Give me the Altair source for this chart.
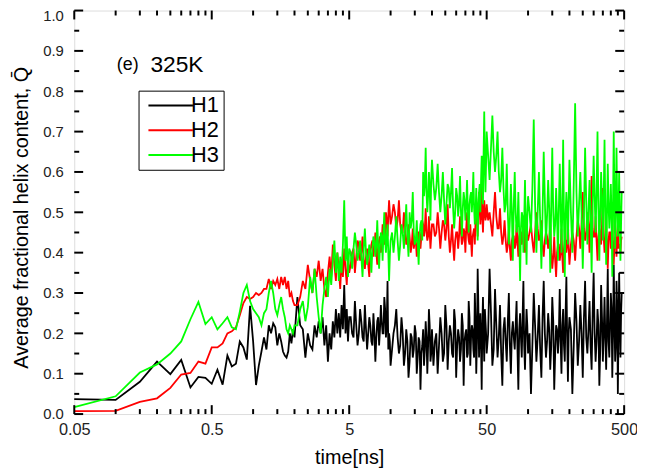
import altair as alt
import pandas as pd

# ---------------- data ----------------
time_a = [0.05, 0.1, 0.15, 0.2, 0.25, 0.3, 0.35, 0.4, 0.45, 0.5,
          0.55, 0.6, 0.65, 0.7, 0.75, 0.8, 0.85, 0.9, 0.95, 1.0,
          1.05, 1.1, 1.15, 1.2, 1.25, 1.3, 1.35, 1.4, 1.45, 1.5,
          1.55, 1.6, 1.65, 1.7, 1.75, 1.8, 1.85, 1.9, 1.95, 2.0]
time_b = [2.1, 2.2, 2.3, 2.4, 2.5, 2.6, 2.7, 2.8, 2.9, 3.0,
          3.1, 3.2, 3.3, 3.4, 3.5, 3.6, 3.7, 3.8, 3.9, 4.0,
          4.1, 4.2, 4.3, 4.4, 4.5, 4.6, 4.7, 4.8, 4.9, 5.0]
time_c = [5.25, 5.5, 5.75, 6.0, 6.25, 6.5, 6.75, 7.0, 7.25, 7.5,
          7.75, 8.0, 8.25, 8.5, 8.75, 9.0, 9.25, 9.5, 9.75, 10.0]
time_d = [10.5, 11, 11.5, 12, 12.5, 13, 13.5, 14, 14.5, 15,
          15.5, 16, 16.5, 17, 17.5, 18, 18.5, 19, 19.5, 20]
time_e = [21, 22, 23, 24, 25, 26, 27, 28, 29, 30,
          31, 32, 33, 34, 35, 36, 37, 38, 39, 40,
          41, 42, 43, 44, 45, 46, 47, 48, 49, 50]
time_f = [52.5, 55, 57.5, 60, 62.5, 65, 67.5, 70, 72.5, 75,
          77.5, 80, 82.5, 85, 87.5, 90, 92.5, 95, 97.5, 100]
time_g = [105, 110, 115, 120, 125, 130, 135, 140, 145, 150,
          155, 160, 165, 170, 175, 180, 185, 190, 195, 200]
time_h = [210, 220, 230, 240, 250, 260, 270, 280, 290, 300,
          310, 320, 330, 340, 350, 360, 370, 380, 390, 400,
          410, 420, 430, 440, 450, 460, 470, 480]
# extra readings in the dense part, between the times above
time_c2 = [5.125, 5.375, 5.625, 5.875, 6.125, 6.375, 6.625, 6.875, 7.125, 7.375,
           7.625, 7.875, 8.125, 8.375, 8.625, 8.875, 9.125, 9.375, 9.625, 9.875]
time_d2 = [10.25, 10.75, 11.25, 11.75, 12.25, 12.75, 13.25, 13.75, 14.25, 14.75,
           15.25, 15.75, 16.25, 16.75, 17.25, 17.75, 18.25, 18.75, 19.25, 19.75]
time_e2 = [20.5, 21.5, 22.5, 23.5, 24.5, 25.5, 26.5, 27.5, 28.5, 29.5,
           30.5, 31.5, 32.5, 33.5, 34.5, 35.5, 36.5, 37.5, 38.5, 39.5,
           40.5, 41.5, 42.5, 43.5, 44.5, 45.5, 46.5, 47.5, 48.5, 49.5]
time_f2 = [51.25, 53.75, 56.25, 58.75, 61.25, 63.75, 66.25, 68.75, 71.25, 73.75,
           76.25, 78.75, 81.25, 83.75, 86.25, 88.75, 91.25, 93.75, 96.25, 98.75]
time_g2 = [102.5, 107.5, 112.5, 117.5, 122.5, 127.5, 132.5, 137.5, 142.5, 147.5,
           152.5, 157.5, 162.5, 167.5, 172.5, 177.5, 182.5, 187.5, 192.5, 197.5]
time_h2 = [205, 215, 225, 235, 245, 255, 265, 275, 285, 295,
           305, 315, 325, 335, 345, 355, 365, 375, 385, 395,
           405, 415, 425, 435, 445, 455, 465, 475]

h1_a = [0.037, 0.035, 0.08, 0.13, 0.099, 0.134, 0.066, 0.092, 0.09, 0.075,
        0.11, 0.073, 0.145, 0.118, 0.125, 0.18, 0.165, 0.135, 0.268, 0.18,
        0.072, 0.12, 0.155, 0.19, 0.16, 0.22, 0.2, 0.225, 0.215, 0.17,
        0.2, 0.18, 0.155, 0.145, 0.14, 0.155, 0.2, 0.175, 0.21, 0.19]
h1_b = [0.29, 0.22, 0.21, 0.14, 0.2, 0.17, 0.16, 0.22, 0.19, 0.23,
        0.2, 0.24, 0.17, 0.22, 0.13, 0.2, 0.16, 0.23, 0.19, 0.26,
        0.2, 0.25, 0.19, 0.27, 0.21, 0.32, 0.2, 0.26, 0.18, 0.24]
h1_c = [0.2, 0.28, 0.17, 0.26, 0.19, 0.27, 0.16, 0.24, 0.18, 0.25,
        0.13, 0.23, 0.17, 0.27, 0.2, 0.29, 0.19, 0.33, 0.2, 0.12]
h1_d = [0.2, 0.26, 0.15, 0.24, 0.12, 0.21, 0.09, 0.2, 0.14, 0.22,
        0.1, 0.19, 0.06, 0.17, 0.12, 0.23, 0.1, 0.26, 0.13, 0.21]
h1_e = [0.18, 0.1, 0.24, 0.13, 0.27, 0.11, 0.22, 0.15, 0.26, 0.09,
        0.21, 0.13, 0.25, 0.07, 0.2, 0.14, 0.28, 0.12, 0.22, 0.16,
        0.3, 0.1, 0.36, 0.14, 0.25, 0.06, 0.29, 0.13, 0.23, 0.15]
h1_f = [0.36, 0.12, 0.31, 0.14, 0.27, 0.07, 0.24, 0.13, 0.3, 0.1,
        0.23, 0.16, 0.28, 0.06, 0.25, 0.14, 0.33, 0.11, 0.26, 0.15]
h1_g = [0.05, 0.3, 0.13, 0.27, 0.09, 0.33, 0.14, 0.25, 0.11, 0.29,
        0.06, 0.22, 0.15, 0.31, 0.1, 0.26, 0.13, 0.34, 0.08, 0.24]
h1_h = [0.05, 0.3, 0.12, 0.27, 0.09, 0.33, 0.15, 0.28, 0.11, 0.35,
        0.13, 0.26, 0.07, 0.32, 0.13, 0.29, 0.11, 0.36, 0.14, 0.3,
        0.09, 0.37, 0.13, 0.33, 0.05, 0.35, 0.14, 0.3]
h1_c2 = [0.24, 0.19, 0.22, 0.2, 0.23, 0.18, 0.21, 0.2, 0.22, 0.17,
         0.2, 0.19, 0.24, 0.21, 0.23, 0.2, 0.26, 0.22, 0.16, 0.18]
h1_d2 = [0.16, 0.22, 0.19, 0.17, 0.2, 0.15, 0.18, 0.13, 0.19, 0.16,
         0.2, 0.14, 0.18, 0.15, 0.21, 0.16, 0.19, 0.17, 0.22, 0.15]
h1_e2 = [0.12, 0.2, 0.17, 0.2, 0.15, 0.22, 0.18, 0.2, 0.14, 0.23,
         0.17, 0.19, 0.16, 0.22, 0.18, 0.21, 0.15, 0.24, 0.19, 0.21,
         0.14, 0.23, 0.18, 0.27, 0.2, 0.17, 0.22, 0.19, 0.26, 0.2]
h1_f2 = [0.2, 0.25, 0.16, 0.22, 0.19, 0.15, 0.21, 0.18, 0.23, 0.17,
         0.2, 0.19, 0.22, 0.16, 0.21, 0.19, 0.24, 0.17, 0.2, 0.22]
h1_g2 = [0.2, 0.17, 0.22, 0.19, 0.16, 0.24, 0.2, 0.18, 0.21, 0.17,
         0.23, 0.15, 0.21, 0.2, 0.18, 0.22, 0.17, 0.25, 0.19, 0.2]
h1_h2 = [0.21, 0.17, 0.23, 0.18, 0.2, 0.24, 0.19, 0.21, 0.17, 0.25,
         0.2, 0.18, 0.22, 0.16, 0.24, 0.2, 0.19, 0.23, 0.18, 0.22,
         0.26, 0.2, 0.24, 0.17, 0.27, 0.21, 0.23, 0.25]

h2_a = [0.007, 0.008, 0.03, 0.039, 0.065, 0.098, 0.102, 0.13, 0.125, 0.165,
        0.165, 0.175, 0.2, 0.205, 0.215, 0.245, 0.275, 0.29, 0.285, 0.29,
        0.3, 0.295, 0.3, 0.31, 0.31, 0.335, 0.31, 0.33, 0.32, 0.335,
        0.31, 0.34, 0.32, 0.34, 0.31, 0.33, 0.29, 0.3, 0.28, 0.27]
h2_b = [0.27, 0.29, 0.33, 0.31, 0.37, 0.33, 0.3, 0.36, 0.34, 0.38,
        0.33, 0.36, 0.31, 0.29, 0.35, 0.39, 0.34, 0.42, 0.37, 0.33,
        0.4, 0.36, 0.31, 0.38, 0.34, 0.41, 0.36, 0.32, 0.39, 0.35]
h2_c = [0.4, 0.35, 0.43, 0.38, 0.44, 0.36, 0.41, 0.34, 0.42, 0.39,
        0.45, 0.37, 0.43, 0.4, 0.47, 0.42, 0.5, 0.44, 0.53, 0.47]
h2_d = [0.52, 0.46, 0.53, 0.45, 0.5, 0.42, 0.47, 0.4, 0.46, 0.43,
        0.39, 0.45, 0.41, 0.48, 0.44, 0.51, 0.43, 0.49, 0.41, 0.47]
h2_e = [0.44, 0.5, 0.41, 0.48, 0.43, 0.52, 0.4, 0.47, 0.38, 0.45,
        0.41, 0.49, 0.42, 0.46, 0.4, 0.5, 0.43, 0.47, 0.39, 0.45,
        0.42, 0.51, 0.44, 0.55, 0.47, 0.57, 0.45, 0.53, 0.48, 0.52]
h2_f = [0.5, 0.44, 0.55, 0.46, 0.51, 0.42, 0.48, 0.4, 0.46, 0.38,
        0.44, 0.41, 0.47, 0.39, 0.45, 0.42, 0.49, 0.4, 0.46, 0.43]
h2_g = [0.47, 0.4, 0.5, 0.43, 0.48, 0.39, 0.45, 0.41, 0.47, 0.36,
        0.44, 0.34, 0.42, 0.38, 0.46, 0.35, 0.43, 0.4, 0.48, 0.37]
h2_h = [0.45, 0.38, 0.48, 0.41, 0.55, 0.43, 0.5, 0.4, 0.59, 0.44,
        0.49, 0.38, 0.46, 0.42, 0.56, 0.4, 0.48, 0.36, 0.45, 0.41,
        0.5, 0.37, 0.44, 0.39, 0.47, 0.42, 0.4, 0.44]
h2_c2 = [0.37, 0.41, 0.39, 0.42, 0.4, 0.38, 0.39, 0.37, 0.4, 0.43,
         0.41, 0.4, 0.42, 0.44, 0.43, 0.46, 0.45, 0.48, 0.49, 0.5]
h2_d2 = [0.49, 0.5, 0.48, 0.47, 0.45, 0.46, 0.43, 0.44, 0.42, 0.41,
         0.43, 0.42, 0.45, 0.44, 0.47, 0.46, 0.45, 0.44, 0.45, 0.44]
h2_e2 = [0.47, 0.45, 0.46, 0.45, 0.47, 0.46, 0.44, 0.43, 0.42, 0.43,
         0.45, 0.44, 0.45, 0.43, 0.45, 0.46, 0.45, 0.42, 0.43, 0.44,
         0.46, 0.48, 0.49, 0.5, 0.52, 0.5, 0.49, 0.5, 0.5, 0.49]
h2_f2 = [0.48, 0.47, 0.5, 0.49, 0.46, 0.45, 0.44, 0.43, 0.42, 0.41,
         0.43, 0.44, 0.42, 0.43, 0.44, 0.45, 0.44, 0.45, 0.43, 0.44]
h2_g2 = [0.45, 0.43, 0.45, 0.46, 0.44, 0.42, 0.43, 0.44, 0.43, 0.4,
         0.39, 0.38, 0.4, 0.42, 0.4, 0.39, 0.41, 0.43, 0.42, 0.41]
h2_h2 = [0.42, 0.43, 0.44, 0.46, 0.47, 0.46, 0.45, 0.47, 0.5, 0.46,
         0.44, 0.43, 0.44, 0.45, 0.47, 0.44, 0.42, 0.41, 0.43, 0.45,
         0.43, 0.41, 0.42, 0.43, 0.45, 0.41, 0.42, 0.43]

h3_a = [0.017, 0.044, 0.103, 0.123, 0.15, 0.18, 0.235, 0.278, 0.223, 0.24,
        0.21, 0.225, 0.24, 0.215, 0.21, 0.254, 0.3, 0.32, 0.28, 0.26,
        0.25, 0.24, 0.22, 0.25, 0.26, 0.3, 0.33, 0.3, 0.26, 0.245,
        0.27, 0.29, 0.26, 0.24, 0.21, 0.2, 0.22, 0.21, 0.2, 0.22]
h3_b = [0.22, 0.26, 0.28, 0.23, 0.265, 0.34, 0.3, 0.36, 0.29, 0.24,
        0.2, 0.27, 0.31, 0.34, 0.29, 0.36, 0.32, 0.38, 0.43, 0.35,
        0.4, 0.33, 0.39, 0.35, 0.42, 0.53, 0.38, 0.44, 0.34, 0.41]
h3_c = [0.36, 0.45, 0.38, 0.43, 0.34, 0.46, 0.37, 0.42, 0.35, 0.44,
        0.39, 0.48, 0.36, 0.45, 0.38, 0.5, 0.4, 0.47, 0.33, 0.43]
h3_d = [0.4, 0.49, 0.38, 0.47, 0.41, 0.52, 0.39, 0.46, 0.55, 0.42,
        0.48, 0.37, 0.47, 0.43, 0.54, 0.66, 0.5, 0.6, 0.48, 0.63]
h3_e = [0.53, 0.62, 0.5, 0.6, 0.47, 0.57, 0.51, 0.61, 0.46, 0.56,
        0.49, 0.59, 0.44, 0.55, 0.48, 0.58, 0.45, 0.54, 0.5, 0.6,
        0.47, 0.56, 0.43, 0.55, 0.5, 0.64, 0.52, 0.75, 0.55, 0.7]
h3_f = [0.58, 0.74, 0.6, 0.7, 0.55, 0.66, 0.5, 0.62, 0.42, 0.57,
        0.38, 0.6, 0.45, 0.55, 0.33, 0.5, 0.4, 0.58, 0.37, 0.54]
h3_g = [0.45, 0.73, 0.4, 0.6, 0.36, 0.65, 0.42, 0.58, 0.35, 0.66,
        0.44, 0.56, 0.38, 0.62, 0.4, 0.68, 0.34, 0.55, 0.42, 0.63]
h3_h = [0.4, 0.77, 0.44, 0.6, 0.36, 0.66, 0.42, 0.58, 0.35, 0.64,
        0.45, 0.7, 0.38, 0.6, 0.43, 0.68, 0.37, 0.62, 0.46, 0.57,
        0.34, 0.7, 0.41, 0.66, 0.44, 0.6, 0.38, 0.55]
h3_c2 = [0.4, 0.41, 0.42, 0.4, 0.39, 0.41, 0.4, 0.39, 0.4, 0.41,
         0.43, 0.42, 0.41, 0.42, 0.44, 0.45, 0.43, 0.44, 0.4, 0.39]
h3_d2 = [0.45, 0.44, 0.43, 0.42, 0.45, 0.46, 0.44, 0.5, 0.48, 0.45,
         0.43, 0.42, 0.44, 0.48, 0.6, 0.57, 0.55, 0.54, 0.56, 0.58]
h3_e2 = [0.57, 0.56, 0.55, 0.54, 0.53, 0.52, 0.56, 0.55, 0.51, 0.5,
         0.54, 0.52, 0.5, 0.51, 0.53, 0.52, 0.5, 0.52, 0.55, 0.54,
         0.51, 0.5, 0.49, 0.52, 0.57, 0.58, 0.62, 0.65, 0.63, 0.62]
h3_f2 = [0.64, 0.66, 0.65, 0.64, 0.6, 0.58, 0.56, 0.52, 0.5, 0.48,
         0.5, 0.52, 0.5, 0.47, 0.45, 0.46, 0.49, 0.48, 0.47, 0.49]
h3_g2 = [0.5, 0.56, 0.52, 0.5, 0.48, 0.5, 0.53, 0.49, 0.51, 0.52,
         0.5, 0.47, 0.49, 0.51, 0.52, 0.5, 0.48, 0.49, 0.51, 0.53]
h3_h2 = [0.5, 0.57, 0.55, 0.52, 0.5, 0.49, 0.53, 0.5, 0.49, 0.52,
         0.54, 0.55, 0.51, 0.5, 0.53, 0.54, 0.5, 0.49, 0.52, 0.5,
         0.49, 0.52, 0.54, 0.53, 0.52, 0.5, 0.48, 0.47]

series_names = ["H1", "H2", "H3"]
series_colors = ["#000000", "#ff0000", "#00ff00"]

x_major = [0.05, 0.5, 5, 50, 500]
x_minor_mult = [2, 3, 4, 5, 6, 7, 8, 9]
y_major = [0.0, 0.1, 0.2, 0.3, 0.4, 0.5, 0.6, 0.7, 0.8, 0.9, 1.0]
y_minor = [0.05, 0.15, 0.25, 0.35, 0.45, 0.55, 0.65, 0.75, 0.85, 0.95]

ann_t = [0.102, 0.179]
ann_v = [0.866, 0.866]
ann_text = ["(e)", "325K"]
ann_size = [18, 23]

# ---------------- tables ----------------
times = (time_a + time_b + time_c + time_d + time_e + time_f + time_g + time_h +
         time_c2 + time_d2 + time_e2 + time_f2 + time_g2 + time_h2)
h1 = (h1_a + h1_b + h1_c + h1_d + h1_e + h1_f + h1_g + h1_h +
      h1_c2 + h1_d2 + h1_e2 + h1_f2 + h1_g2 + h1_h2)
h2 = (h2_a + h2_b + h2_c + h2_d + h2_e + h2_f + h2_g + h2_h +
      h2_c2 + h2_d2 + h2_e2 + h2_f2 + h2_g2 + h2_h2)
h3 = (h3_a + h3_b + h3_c + h3_d + h3_e + h3_f + h3_g + h3_h +
      h3_c2 + h3_d2 + h3_e2 + h3_f2 + h3_g2 + h3_h2)

frames = []
for name, vals in zip(series_names, (h1, h2, h3)):
    f = pd.DataFrame({"time": times, "value": vals})
    f["series"] = name
    frames.append(f.sort_values("time"))
df = pd.concat(frames, ignore_index=True)

x_minor = [round(b * m, 4) for b in x_major[:-1] for m in x_minor_mult]
df_xmaj = pd.DataFrame({"time": x_major})
df_xmin = pd.DataFrame({"time": x_minor})
df_ymaj = pd.DataFrame({"value": y_major})
df_ymin = pd.DataFrame({"value": y_minor})
df_ann = pd.DataFrame({"time": ann_t, "value": ann_v, "label": ann_text, "size": ann_size})

# ---------------- chart ----------------
W, H = 556, 408
FONT = "Liberation Sans"
MAJ, MIN = 9, 5

xscale = alt.Scale(type="log", domain=[0.05, 500], nice=False)
yscale = alt.Scale(domain=[0, 1], nice=False, zero=False)

x_axis = alt.Axis(values=x_major, format="~g", ticks=False, domain=False,
                  grid=False, labelFontSize=16.5, labelPadding=8,
                  labelColor="#222222", labelFlush=False, labelFont=FONT,
                  title="time[ns]", titleFontSize=20, titleFont=FONT,
                  titleFontWeight="normal", titlePadding=9, titleColor="#000000")
y_axis = alt.Axis(values=y_major, format=".1f", ticks=False, domain=False,
                  grid=False, labelFontSize=15, labelPadding=11,
                  labelColor="#222222", labelFont=FONT, labelFlush=False,
                  labelOffset={"condition": {"test": "datum.value >= 0.99", "value": 5}, "value": 0},
                  title="Average fractional helix content, Q\u0304",
                  titleFontSize=20, titleFont=FONT, titleFontWeight="normal",
                  titlePadding=11, titleColor="#000000", titleY=H / 2 + 5)

X = alt.X("time:Q", scale=xscale, axis=x_axis)
Y = alt.Y("value:Q", scale=yscale, axis=y_axis)

lines = alt.Chart(df).mark_line(strokeWidth=1.8).encode(
    x=X, y=Y,
    color=alt.Color("series:N",
                    scale=alt.Scale(domain=series_names, range=series_colors),
                    legend=alt.Legend(title=None, orient="none", legendX=65, legendY=81,
                                      strokeColor="#000000", fillColor="#ffffff",
                                      padding=4, symbolType="M-1,0H8", symbolSize=100,
                                      symbolStrokeWidth=2, labelFontSize=22,
                                      labelFont=FONT, labelColor="#000000",
                                      labelOffset=27, rowPadding=3)),
)


def xticks(data, L):
    bottom = alt.Chart(data).mark_rule(color="#000000", strokeWidth=2).encode(
        x=X, y=alt.value(H), y2=alt.value(H - L))
    top = alt.Chart(data).mark_rule(color="#000000", strokeWidth=2).encode(
        x=X, y=alt.value(0), y2=alt.value(L))
    return [bottom, top]


def yticks(data, L):
    left = alt.Chart(data).mark_rule(color="#000000", strokeWidth=2).encode(
        y=Y, x=alt.value(0), x2=alt.value(L))
    right = alt.Chart(data).mark_rule(color="#000000", strokeWidth=2).encode(
        y=Y, x=alt.value(W), x2=alt.value(W - L))
    return [left, right]


ann = alt.Chart(df_ann).mark_text(align="left", baseline="middle", font=FONT,
                                   color="#000000").encode(
    x=X, y=Y,
    text="label:N",
    size=alt.Size("size:Q", scale=None, legend=None),
)

layers = [lines] + xticks(df_xmaj, MAJ) + xticks(df_xmin, MIN) + \
    yticks(df_ymaj, MAJ) + yticks(df_ymin, MIN) + [ann]

chart = alt.layer(*layers).properties(
    width=W, height=H,
    padding={"left": 67, "top": 0, "right": 13, "bottom": 55},
    autosize=alt.AutoSizeParams(type="none"),
).configure_view(stroke="#000000", strokeWidth=2).configure(font=FONT)

chart.save("out.html", embed_options={"renderer": "svg", "actions": False})
